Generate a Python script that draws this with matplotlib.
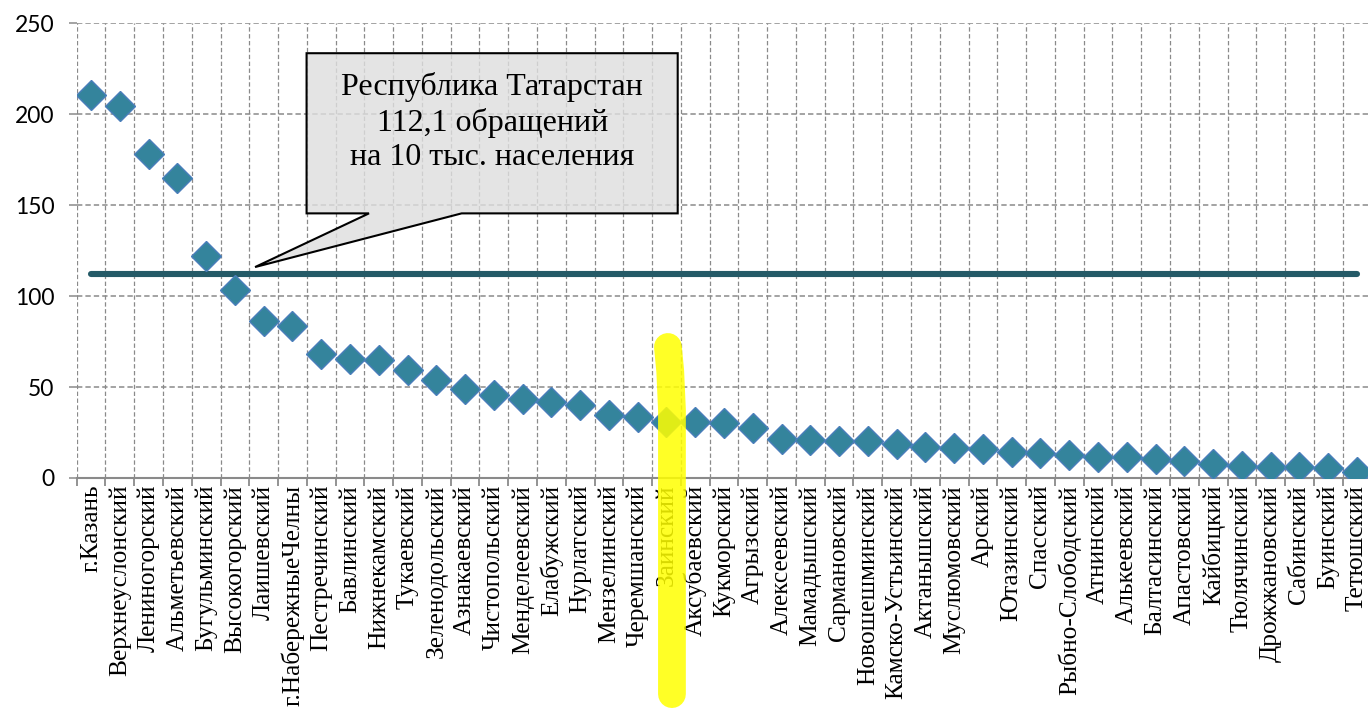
import matplotlib
matplotlib.use("Agg")
import matplotlib.pyplot as plt
from matplotlib.patches import Polygon
from matplotlib.transforms import blended_transform_factory
from matplotlib.ticker import FixedLocator

districts = [
    "г.Казань", "Верхнеуслонский", "Лениногорский", "Альметьевский", "Бугульминский",
    "Высокогорский", "Лаишевский", "г.НабережныеЧелны", "Пестречинский", "Бавлинский",
    "Нижнекамский", "Тукаевский", "Зеленодольский", "Азнакаевский", "Чистопольский",
    "Менделеевский", "Елабужский", "Нурлатский", "Мензелинский", "Черемшанский",
    "Заинский", "Аксубаевский", "Кукморский", "Агрызский", "Алексеевский",
    "Мамадышский", "Сармановский", "Новошешминский", "Камско-Устьинский", "Актанышский",
    "Муслюмовский", "Арский", "Ютазинский", "Спасский", "Рыбно-Слободский",
    "Атнинский", "Алькеевский", "Балтасинский", "Апастовский", "Кайбицкий",
    "Тюлячинский", "Дрожжановский", "Сабинский", "Буинский", "Тетюшский",
]
values = [
    210.4, 204.4, 177.8, 165.0, 122.0,
    103.3, 86.3, 83.5, 68.0, 65.2,
    64.8, 59.3, 53.8, 49.1, 45.8,
    43.6, 41.9, 40.1, 34.6, 33.6,
    30.8, 30.6, 30.1, 27.6, 21.2,
    20.9, 20.3, 20.1, 18.6, 17.2,
    16.3, 15.8, 14.5, 13.9, 12.6,
    11.4, 11.4, 10.3, 9.3, 7.7,
    6.6, 6.2, 6.2, 5.3, 3.5,
]
republic_avg = 112.1
callout_text = "Республика Татарстан\n112,1 обращений\nна 10 тыс. населения"
highlighted = "Заинский"
yticks = [0, 50, 100, 150, 200, 250]

W, H = 1368, 713
fig = plt.figure(figsize=(W / 100, H / 100), dpi=100)
ax = fig.add_axes([76.7 / W, 1 - 478 / H, 45 * 28.77 / W, 455 / H])

x = list(range(len(districts)))
grid_c = "#8a8a8a"

ax.set_xlim(-0.5, len(districts) - 0.5)
ax.set_ylim(0, 250)

# grid
ax.xaxis.set_major_locator(FixedLocator(x))
ax.xaxis.set_minor_locator(FixedLocator([i - 0.5 for i in range(len(districts) + 1)]))
ax.set_yticks(yticks)
ax.grid(True, which="minor", axis="x", color=grid_c, linestyle=(0, (3.5, 2)), lw=0.9)
ax.grid(True, which="major", axis="y", color=grid_c, linestyle=(0, (3.5, 2)), lw=1.1)
ax.grid(False, which="major", axis="x")
ax.set_axisbelow(True)

for s in ["top", "right", "left"]:
    ax.spines[s].set_visible(False)
ax.spines["bottom"].set_color(grid_c)
ax.spines["bottom"].set_linewidth(1.5)

ax.tick_params(axis="x", which="major", length=0, pad=5)
ax.tick_params(axis="x", which="minor", length=6, width=1.3, color=grid_c, direction="out")
ax.tick_params(axis="y", which="major", length=6, width=1.1, color=grid_c, pad=10,
               labelsize=16.5)
for lab in ax.get_yticklabels():
    lab.set_fontfamily("Lato")

ax.set_xticklabels(districts, rotation=90, fontfamily="Liberation Serif", fontsize=18.3,
                   va="top", ha="center")

# average line
ax.plot([x[0], x[-1]], [republic_avg, republic_avg], color="#245a67", lw=4.4,
        solid_capstyle="round", zorder=3)

# markers
ax.plot(x, values, linestyle="none", marker="D", ms=14.8, mfc="#34849c",
        mec="#4a7ebb", mew=1.0, zorder=4)

# callout
box_l, box_r, box_t, box_b = 7.49, 20.39, 233.4, 145.4
tip = (5.70, republic_avg + 3.8)
poly = Polygon([(box_l, box_t), (box_r, box_t), (box_r, box_b), (12.88, box_b), tip,
                (9.66, box_b), (box_l, box_b)], closed=True, facecolor="#dedede",
               alpha=0.82, edgecolor="none", zorder=5)
ax.add_patch(poly)
poly_e = Polygon(poly.get_xy(), closed=True, facecolor="none", edgecolor="black",
                 lw=1.5, zorder=5.1)
ax.add_patch(poly_e)
ax.text((box_l + box_r) / 2, 195.5, callout_text, ha="center", va="center",
        fontfamily="Liberation Serif", fontsize=23, linespacing=1.25, zorder=6)

# yellow highlight over "Заинский"
hi = districts.index(highlighted)
tr = blended_transform_factory(ax.transData, ax.transAxes)
ax.plot([hi + 0.05, hi + 0.13, hi + 0.19, hi + 0.19], [0.288, 0.235, 0.15, -0.475],
        transform=tr, color="#ffff00", alpha=0.85, lw=20, solid_capstyle="round",
        solid_joinstyle="round", clip_on=False, zorder=10)

fig.savefig("out.png", dpi=100)
